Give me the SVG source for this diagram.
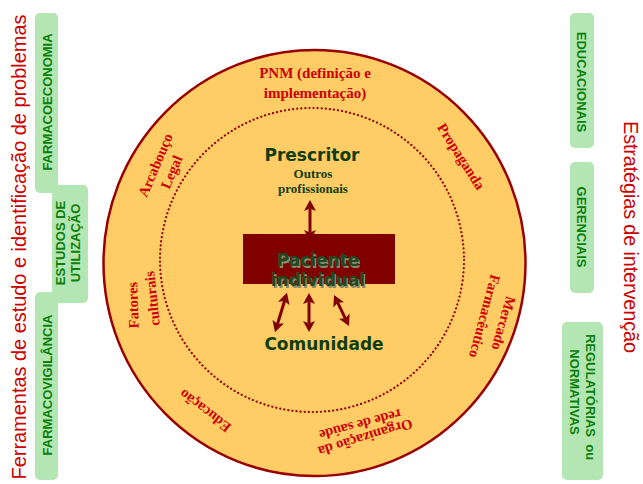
<svg xmlns="http://www.w3.org/2000/svg" width="643" height="484" viewBox="0 0 643 484">
  <style>
    .title { font-family: "Liberation Sans", Arial, sans-serif; font-size: 20px; fill: #cc0000; }
    .box { fill: #b3e6b3; }
    .boxtxt { font-family: "Liberation Sans", Arial, sans-serif; font-size: 13px; font-weight: bold; fill: #0a800a; text-anchor: middle; }
    .ring { font-family: "Liberation Serif", "Times New Roman", serif; font-size: 14.5px; font-weight: bold; fill: #cc0000; text-anchor: middle; }
    .actor { font-family: "DejaVu Sans", Verdana, sans-serif; font-size: 17px; font-weight: bold; fill: #0f3d0f; text-anchor: middle; }
    .sub { font-family: "Liberation Serif", "Times New Roman", serif; font-size: 13px; font-weight: bold; fill: #0f3d0f; text-anchor: middle; }
    .link { stroke: #800000; stroke-width: 3; fill: none; marker-start: url(#head); marker-end: url(#head); }
  </style>
  <defs>
    <marker id="head" markerUnits="userSpaceOnUse" markerWidth="12" markerHeight="12" refX="2.5" refY="6" orient="auto-start-reverse" viewBox="0 0 12 12">
      <path d="M0,0 L11,6 L0,12 L2.5,6 z" fill="#800000"/>
    </marker>
  </defs>

  <!-- side titles -->
  <text class="title" transform="translate(26,247) rotate(-90)" text-anchor="middle" textLength="465">Ferramentas de estudo e identificação de problemas</text>
  <text class="title" transform="translate(624,237) rotate(90)" text-anchor="middle" textLength="232">Estratégias de intervenção</text>

  <!-- study tools (left) -->
  <g id="farmacoeconomia">
    <rect class="box" x="35" y="13" width="23" height="180" rx="5"/>
    <text class="boxtxt" transform="translate(52,102) rotate(-90)">FARMACOECONOMIA</text>
  </g>
  <g id="farmacovigilancia">
    <rect class="box" x="35" y="292" width="23" height="188" rx="5"/>
    <text class="boxtxt" transform="translate(52,385) rotate(-90)">FARMACOVIGILÂNCIA</text>
  </g>
  <g id="estudos-utilizacao">
    <rect class="box" x="52" y="185" width="36" height="118" rx="5"/>
    <text class="boxtxt" transform="translate(65,243) rotate(-90)">ESTUDOS DE</text>
    <text class="boxtxt" transform="translate(80,243) rotate(-90)">UTILIZAÇÃO</text>
  </g>

  <!-- intervention strategies (right) -->
  <g id="educacionais">
    <rect class="box" x="570" y="13" width="24" height="135" rx="5"/>
    <text class="boxtxt" transform="translate(577,82) rotate(90)">EDUCACIONAIS</text>
  </g>
  <g id="gerenciais">
    <rect class="box" x="570" y="162" width="24" height="131" rx="5"/>
    <text class="boxtxt" transform="translate(577,227) rotate(90)">GERENCIAIS</text>
  </g>
  <g id="regulatorias">
    <rect class="box" x="562" y="322" width="41" height="158" rx="5"/>
    <text class="boxtxt" transform="translate(586,397) rotate(90)" xml:space="preserve">REGULATÓRIAS  ou</text>
    <text class="boxtxt" transform="translate(570,392) rotate(90)">NORMATIVAS</text>
  </g>

  <!-- context ring -->
  <g id="contexto">
    <ellipse cx="314.5" cy="263" rx="211" ry="213" fill="#ffcc66" stroke="#990000" stroke-width="2.5"/>
    <circle cx="312" cy="260" r="152" fill="none" stroke="#990000" stroke-width="2.2" stroke-linecap="round" stroke-dasharray="0.1 4"/>
    <text class="ring" x="315" y="78" style="font-size:15px">PNM (definição e</text>
    <text class="ring" x="315" y="98" style="font-size:15px">implementação)</text>
    <text class="ring" transform="translate(160,167) rotate(-67)">Arcabouço</text>
    <text class="ring" transform="translate(176,174) rotate(-67)">Legal</text>
    <text class="ring" transform="translate(457,159) rotate(57.5)">Propaganda</text>
    <text class="ring" transform="translate(138,305) rotate(-92)">Fatores</text>
    <text class="ring" transform="translate(157,298) rotate(-96)">culturais</text>
    <text class="ring" transform="translate(499,322) rotate(106)">Mercado</text>
    <text class="ring" transform="translate(480,315) rotate(105)">Farmacêutico</text>
    <text class="ring" transform="translate(208,407) rotate(-142.5)">Educação</text>
    <text class="ring" transform="translate(364,433) rotate(163)">Organização da</text>
    <text class="ring" transform="translate(359,420) rotate(165)">rede de saúde</text>
  </g>

  <!-- actors -->
  <g id="prescritor">
    <text class="actor" x="312" y="161">Prescritor</text>
    <text class="sub" x="313" y="178">Outros</text>
    <text class="sub" x="313" y="193">profissionais</text>
  </g>
  <g id="paciente">
    <rect x="243" y="234" width="152" height="50" fill="#800000"/>
    <text class="actor" x="319.5" y="267.5" style="fill:#8a8a70">Paciente</text>
    <text class="actor" x="319.5" y="287.5" style="fill:#8a8a70">individual</text>
    <text class="actor" x="318" y="266" style="fill:#1f4a1f">Paciente</text>
    <text class="actor" x="318" y="286" style="fill:#1f4a1f">individual</text>
  </g>
  <g id="comunidade">
    <text class="actor" x="324" y="350">Comunidade</text>
  </g>

  <!-- connectors -->
  <g id="connectors">
    <line class="link" x1="310" y1="208.5" x2="310" y2="232.5"/>
    <line class="link" x1="284.5" y1="301" x2="277.5" y2="324"/>
    <line class="link" x1="309" y1="301.5" x2="309" y2="323.5"/>
    <line class="link" x1="337.7" y1="302.7" x2="345.3" y2="318.3"/>
  </g>
</svg>
